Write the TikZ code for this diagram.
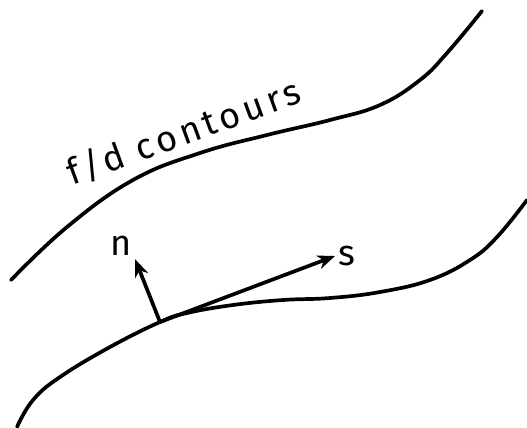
\documentclass[tikz,border=0pt]{standalone}
\usepackage{fontspec}
\setmainfont{Fira Sans}[LetterSpace=12]
\usepackage{xcolor}
\usepackage{tikz}
\usetikzlibrary{positioning, arrows.meta}

\begin{document}
\begin{tikzpicture}[x=0.02cm, y=-0.02cm, line width=2.1pt, line cap=round,
		etiqueta/.style={font=\fontsize{20.5}{24}\selectfont, inner sep=1pt},
		vector/.style={-{Stealth[length=10pt, width=8pt]}}]
			\useasboundingbox (0,0) rectangle (527,427);
			
			% Contornos
			\draw plot[smooth, tension=0.7] coordinates {(11,280) (67,227) (133,180) (200,153) (267,135) (330,120) (380,105) (420,80) (447,53) (482,11)};
			\draw plot[smooth, tension=0.7] coordinates {(17,427) (33,400) (60,377) (110,347) (160,322) (187,313) (233,305) (283,300) (330,298) (380,292) (430,280) (470,260) (497,237) (527,200)};
			
			% Etiquetas
			\node[etiqueta, rotate=20] (contornos) at (184,132) {f/d contours};
			\node[etiqueta] (n) at (121,246) {n};
			\node[etiqueta] (s) at (347,256) {s};
			
			% Vectores
			\coordinate (base) at (160,322);
			\draw[vector] (base) -- (n.south east);
			\draw[vector] (base) -- (s.west);
			\end{tikzpicture}
\end{document}
